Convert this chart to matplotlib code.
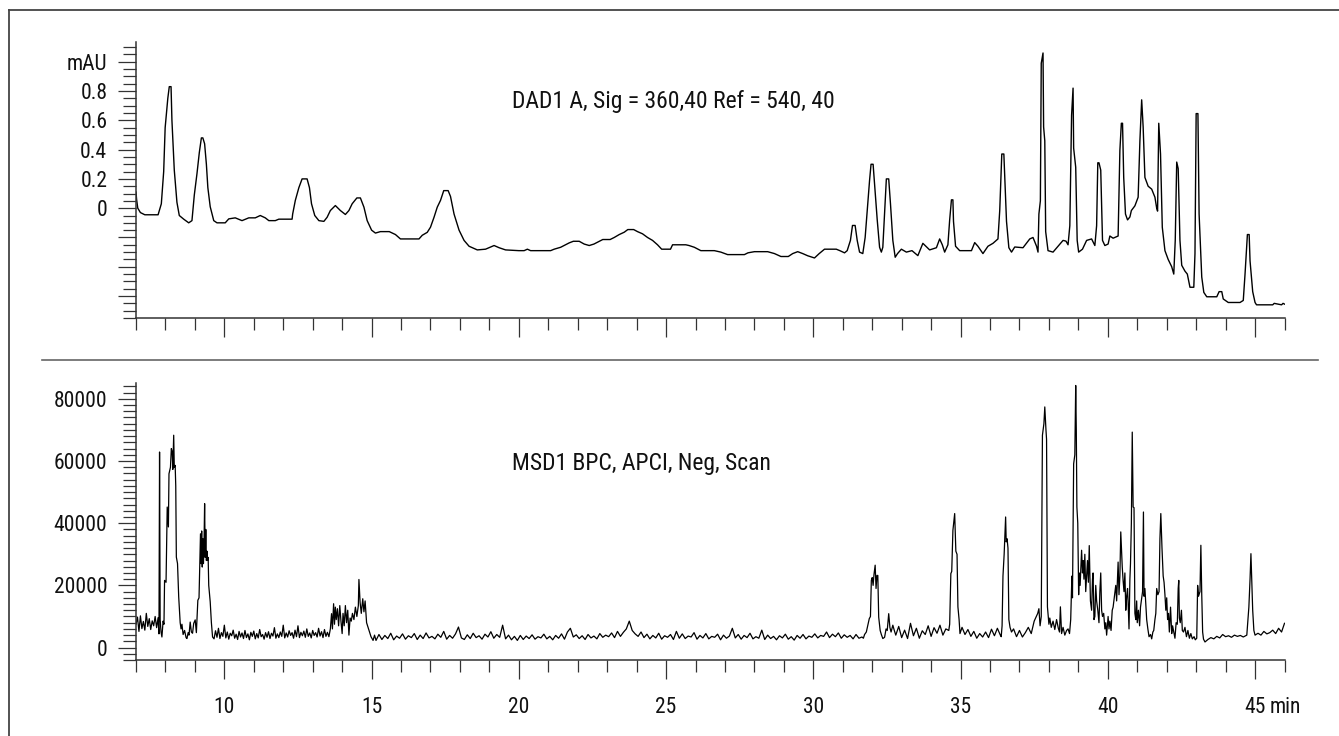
import numpy as np
import matplotlib
matplotlib.use("Agg")
import matplotlib.pyplot as plt
from matplotlib.ticker import MultipleLocator, FixedLocator, FixedFormatter
from matplotlib.lines import Line2D

plt.rcParams['font.family'] = ['Roboto Condensed', 'DejaVu Sans']

# ---------------- DAD1 A trace: (retention time [min], absorbance [mAU]) ----------------
dad_time = [
    7.00, 7.02, 7.06, 7.15, 7.30, 7.50, 7.75, 7.86, 7.94, 7.99, 8.08, 8.13, 8.19, 8.22, 8.30, 8.39,
    8.47, 8.62, 8.79, 8.90, 8.98, 9.07, 9.15, 9.22, 9.27, 9.33, 9.39, 9.44, 9.52, 9.64, 9.75, 10.03,
    10.15, 10.37, 10.60, 10.83, 11.05, 11.22, 11.39, 11.51, 11.73, 11.85, 12.30, 12.32, 12.41, 12.53,
    12.64, 12.81, 12.89, 12.96, 13.07, 13.21, 13.38, 13.49, 13.60, 13.77, 13.94, 14.11, 14.23, 14.34,
    14.50, 14.62, 14.74, 14.85, 15.00, 15.13, 15.30, 15.60, 15.81, 15.98, 16.61, 16.72, 16.89, 17.00,
    17.12, 17.23, 17.34, 17.45, 17.60, 17.68, 17.80, 17.97, 18.14, 18.31, 18.59, 18.87, 19.16, 19.33,
    19.55, 20.00, 20.18, 20.29, 20.40, 21.08, 21.20, 21.42, 21.71, 21.85, 22.05, 22.22, 22.39, 22.55,
    22.73, 22.85, 23.10, 23.24, 23.41, 23.58, 23.70, 23.90, 24.03, 24.20, 24.37, 24.54, 24.71, 24.85,
    25.15, 25.22, 25.67, 25.78, 25.96, 26.18, 26.64, 26.86, 27.09, 27.66, 27.78, 28.00, 28.45, 28.68,
    28.90, 29.15, 29.30, 29.47, 29.64, 29.81, 30.04, 30.20, 30.38, 30.78, 30.90, 31.06, 31.15, 31.26,
    31.33, 31.42, 31.49, 31.57, 31.68, 31.76, 31.83, 31.91, 31.96, 32.03, 32.08, 32.17, 32.25, 32.31,
    32.36, 32.42, 32.48, 32.56, 32.62, 32.70, 32.78, 32.86, 32.99, 33.16, 33.35, 33.55, 33.72, 33.95,
    34.18, 34.29, 34.38, 34.46, 34.57, 34.63, 34.69, 34.74, 34.76, 34.83, 34.97, 35.37, 35.48, 35.59,
    35.76, 35.93, 36.10, 36.27, 36.33, 36.40, 36.47, 36.50, 36.56, 36.64, 36.73, 36.84, 37.12, 37.35,
    37.46, 37.58, 37.63, 37.66, 37.71, 37.74, 37.80, 37.82, 37.86, 37.89, 37.97, 38.14, 38.31, 38.48,
    38.58, 38.65, 38.71, 38.77, 38.82, 38.84, 38.91, 38.96, 39.01, 39.14, 39.28, 39.45, 39.56, 39.62,
    39.66, 39.70, 39.76, 39.82, 39.90, 40.01, 40.07, 40.18, 40.35, 40.41, 40.46, 40.50, 40.54, 40.60,
    40.67, 40.75, 40.80, 40.92, 41.03, 41.09, 41.15, 41.20, 41.26, 41.37, 41.49, 41.60, 41.66, 41.69,
    41.73, 41.79, 41.85, 41.94, 42.05, 42.17, 42.24, 42.29, 42.34, 42.39, 42.45, 42.51, 42.62, 42.70,
    42.79, 42.92, 42.96, 43.00, 43.06, 43.10, 43.19, 43.26, 43.36, 43.70, 43.78, 43.87, 43.92, 44.09,
    44.49, 44.60, 44.66, 44.74, 44.80, 44.83, 44.92, 45.00, 45.05, 45.60, 45.65, 45.90, 45.95, 46.00,
]
dad_mau = [
    0.11, 0.06, 0.00, -0.03, -0.045, -0.045, -0.045, 0.03, 0.25, 0.55, 0.75, 0.83, 0.83, 0.60, 0.26, 0.04,
    -0.05, -0.075, -0.10, -0.085, 0.09, 0.235, 0.38, 0.48, 0.48, 0.44, 0.30, 0.14, 0.01, -0.085, -0.10, -0.10,
    -0.073, -0.066, -0.085, -0.066, -0.066, -0.05, -0.066, -0.085, -0.085, -0.075, -0.075, -0.04, 0.053, 0.14,
    0.20, 0.20, 0.14, 0.03, -0.05, -0.085, -0.09, -0.062, -0.016, 0.018, -0.016, -0.043, -0.016, 0.03,
    0.07, 0.07, 0.007, -0.085, -0.15, -0.17, -0.16, -0.16, -0.18, -0.21, -0.21, -0.185, -0.165, -0.13,
    -0.062, 0.007, 0.053, 0.12, 0.12, 0.08, -0.04, -0.15, -0.22, -0.26, -0.285, -0.28, -0.255, -0.27,
    -0.285, -0.29, -0.29, -0.28, -0.29, -0.29, -0.28, -0.267, -0.237, -0.226, -0.226, -0.245, -0.255, -0.245,
    -0.226, -0.214, -0.214, -0.20, -0.18, -0.164, -0.146, -0.146, -0.16, -0.175, -0.20, -0.22, -0.25, -0.28,
    -0.28, -0.25, -0.25, -0.255, -0.267, -0.29, -0.29, -0.30, -0.317, -0.317, -0.305, -0.297, -0.297, -0.31,
    -0.33, -0.33, -0.31, -0.297, -0.31, -0.325, -0.34, -0.31, -0.28, -0.28, -0.29, -0.305, -0.29, -0.22,
    -0.118, -0.118, -0.22, -0.30, -0.31, -0.20, -0.016, 0.19, 0.30, 0.30, 0.167, -0.08, -0.267, -0.30,
    -0.267, -0.04, 0.20, 0.20, 0.03, -0.22, -0.335, -0.31, -0.28, -0.30, -0.29, -0.324, -0.24, -0.285,
    -0.27, -0.21, -0.25, -0.30, -0.25, -0.08, 0.057, 0.057, -0.09, -0.26, -0.29, -0.29, -0.235, -0.26,
    -0.31, -0.26, -0.24, -0.21, -0.016, 0.37, 0.37, 0.21, -0.09, -0.27, -0.30, -0.265, -0.27, -0.21,
    -0.20, -0.26, -0.30, -0.04, 0.05, 0.99, 1.06, 0.555, 0.46, -0.16, -0.29, -0.30, -0.26, -0.22,
    -0.225, -0.25, -0.12, 0.635, 0.82, 0.41, 0.28, -0.22, -0.30, -0.28, -0.22, -0.21, -0.255, -0.12,
    0.31, 0.31, 0.26, -0.22, -0.255, -0.245, -0.19, -0.205, -0.19, 0.395, 0.58, 0.58, 0.21, -0.04,
    -0.08, -0.06, -0.016, 0.016, 0.075, 0.46, 0.74, 0.555, 0.21, 0.15, 0.13, 0.075, 0.00, -0.02,
    0.58, 0.37, -0.13, -0.29, -0.35, -0.40, -0.45, -0.22, 0.315, 0.27, -0.22, -0.39, -0.43, -0.45,
    -0.54, -0.54, -0.31, 0.646, 0.646, -0.04, -0.47, -0.575, -0.605, -0.605, -0.57, -0.57, -0.62, -0.644,
    -0.644, -0.63, -0.45, -0.18, -0.18, -0.36, -0.57, -0.644, -0.66, -0.66, -0.65, -0.66, -0.65, -0.655,
]

# ---------------- MSD1 BPC trace (counts) ----------------
# Stretches of baseline recorded on a regular scan grid: (first scan time, scan interval, counts)
msd_base_early = (7.00, 0.05, [7500, 9800, 5200, 10200, 6100, 8400, 5600, 11000,
                               6800, 9300, 5800, 8600, 7000, 10000, 6400, 9600])
msd_base_a = (9.65, 0.05, [
    2800, 5400, 3300, 6200, 2900, 4800, 3600, 7200, 3100, 5000,
    2700, 4600, 3800, 5600, 3000, 4300, 2600, 5200, 3400, 4700,
    2900, 5500, 3200, 4400, 2500, 4900, 3600, 5300, 2800, 4500,
    3100, 5800, 3500, 4200, 2700, 4800, 3300, 5100, 2900, 4600,
    3700, 6400, 3000, 4400, 3200, 5000, 3600, 7200, 3100, 4700,
    3400, 5400, 3900, 4800, 3000, 5600, 3500, 7000, 3200, 4900,
    3800, 5300, 3300, 6000, 3600, 4700, 3100, 5500, 3900, 4800,
    3400, 6200, 3700, 5100, 3200, 5800, 3600, 4900])
msd_base_b = (15.15, 0.10, [
    2300, 4200, 2600, 3900, 2900, 4600, 2500, 3700, 3000, 4400,
    2700, 3800, 3200, 4500, 2600, 4000, 2900, 4700, 3100, 3600,
    2800, 4300, 3300, 5200, 2700, 3900, 3000, 4400, 6600, 3100,
    2600, 4100, 2900, 4600, 3200, 3800, 2700, 4300, 3400, 5100,
    3000, 4200, 3300, 7200, 2800, 4000, 2500, 3600, 2300, 3900,
    2600, 3700, 2900, 4100, 2700, 3500, 3100, 4300, 2800, 3600,
    2500, 3900, 3000, 4400, 2700, 5000, 6200, 3400, 4100, 2900,
    3800, 2600, 4200, 3100, 3700, 2800, 4500, 3300, 4000, 3500,
    4700, 3200, 5200, 3600, 4900, 6000, 8500, 5500, 4400, 3600,
    5000, 3200, 4300, 2800, 3900, 3100, 4600, 2700, 3800, 3300,
    4200, 2600, 5200, 3000, 4400, 2900, 3700, 3400, 4800, 2700,
    3900, 3100, 4500, 2800, 3600, 3300, 4300, 2500, 4000, 3000,
    3700, 6200, 3100, 4200, 2700, 3900, 3200, 4600, 2800, 3500,
    3000, 5600, 2600, 4000, 2900, 3600, 2500, 3800, 3100, 4300,
    2700, 3500, 2400, 3900, 3000, 4200, 2800, 3700, 3300, 4400,
    3100, 3900, 3600, 5000, 3200, 4300, 3500, 4700, 3000, 4100,
    3300, 3900, 2800, 4200, 3000, 3400])
msd_base_c = (32.80, 0.10, [4000, 6800, 3200, 5600, 2900, 7800, 3800, 6200, 3000, 5400,
                            4200, 7000, 3600, 6400, 4600, 7200, 4000, 6000])
msd_base_d = (35.05, 0.10, [6500, 4200, 5800, 3600, 5200, 3000, 4500, 3400, 5000, 3200,
                            5900, 3800, 6200, 4000])
msd_base_e = (36.80, 0.10, [6000, 3500, 5500, 3400, 4800, 6500, 4500, 8500])
msd_base_f = (43.30, 0.10, [1800, 2600, 3200, 2800, 3600, 3100, 4200, 3500, 3800, 3300,
                            4000, 3600, 3900, 3400])
msd_base_g = (45.10, 0.10, [4600, 4000, 5200, 4400, 4800, 5600, 4500, 6200, 5000, 7800])

# Eluting peaks: (retention time [min], counts)
msd_peaks_8 = [
    (7.78, 4400), (7.80, 62900), (7.82, 9000), (7.85, 5000), (7.88, 3400), (7.92, 8500), (7.95, 7500),
    (7.97, 21600), (8.02, 21000), (8.06, 45200), (8.10, 38800), (8.12, 55900), (8.17, 58000),
    (8.20, 64000), (8.23, 63000), (8.25, 57300), (8.28, 68300), (8.30, 58000), (8.33, 58600),
    (8.35, 52000), (8.37, 29100), (8.41, 27000), (8.45, 16300), (8.50, 8000), (8.53, 6000),
    (8.56, 7500), (8.60, 4200), (8.65, 5500), (8.70, 3200), (8.73, 2900), (8.77, 4800), (8.80, 4000),
    (8.84, 8200), (8.88, 5000), (8.92, 4600), (8.96, 7800), (9.01, 8900), (9.05, 4800), (9.10, 15200),
    (9.14, 16000), (9.19, 36600), (9.21, 27000), (9.23, 37500), (9.25, 25900), (9.27, 35000),
    (9.29, 27000), (9.31, 33400), (9.33, 46300), (9.35, 29000), (9.37, 38000), (9.39, 28000),
    (9.41, 31000), (9.43, 28100), (9.45, 29000), (9.47, 20000), (9.52, 14700), (9.56, 8000),
    (9.60, 3400),
]
msd_peaks_14 = [
    (13.55, 3500), (13.60, 6000), (13.64, 10900), (13.67, 6000), (13.71, 14100), (13.74, 7500),
    (13.77, 13000), (13.80, 9000), (13.84, 12500), (13.88, 7000), (13.92, 13500), (13.96, 8500),
    (14.00, 4500), (14.03, 11000), (14.07, 7000), (14.11, 13500), (14.15, 8000), (14.19, 12000),
    (14.23, 4000), (14.27, 9500), (14.31, 8500), (14.35, 11000), (14.40, 9000), (14.45, 13000),
    (14.50, 10000), (14.55, 13500), (14.57, 21900), (14.61, 14500), (14.65, 11000), (14.70, 15700),
    (14.74, 11500), (14.78, 15000), (14.83, 8000), (14.88, 6500), (14.93, 5000), (14.98, 3500),
    (15.05, 2300), (15.10, 4000),
]
msd_peaks_32 = [
    (31.70, 3000), (31.74, 4200), (31.80, 5000), (31.85, 7200), (31.90, 9300), (31.94, 10000),
    (31.97, 21600), (32.00, 22500), (32.03, 20000), (32.06, 23500), (32.10, 26500), (32.13, 19000),
    (32.16, 23200), (32.19, 23200), (32.22, 9800), (32.27, 5500), (32.31, 4200), (32.36, 2900),
    (32.42, 3300), (32.47, 6000), (32.51, 5500), (32.56, 10900), (32.60, 6500), (32.64, 5000),
    (32.70, 7200), (32.75, 5500),
]
msd_peaks_35 = [
    (34.60, 5500), (34.63, 7500), (34.67, 23800), (34.70, 24500), (34.74, 37700), (34.80, 43100),
    (34.84, 31000), (34.88, 30000), (34.91, 13100), (34.95, 9000), (34.98, 4500),
    (36.38, 3500), (36.41, 7000), (36.44, 23000), (36.48, 30000), (36.53, 42000), (36.55, 34000),
    (36.58, 35000), (36.61, 32000), (36.64, 9000), (36.68, 6500), (36.73, 5000),
]
msd_peaks_38 = [
    (37.62, 11000), (37.66, 12500), (37.70, 7000), (37.74, 10000), (37.78, 68300), (37.83, 72000),
    (37.86, 77400), (37.90, 70000), (37.92, 67000), (37.95, 13100), (38.00, 7500), (38.03, 9500),
    (38.08, 6500), (38.14, 8500), (38.20, 5800), (38.26, 9000), (38.32, 6200), (38.36, 5000),
    (38.39, 13100), (38.43, 4500), (38.48, 6500), (38.54, 4000), (38.60, 5500), (38.65, 6000),
    (38.70, 4500), (38.74, 9000), (38.78, 23000), (38.80, 16000), (38.84, 59100), (38.88, 62000),
    (38.91, 84300), (38.93, 70000), (38.95, 45200), (38.98, 40000), (39.01, 17000), (39.03, 24000),
    (39.06, 20000), (39.11, 31300), (39.14, 24000), (39.16, 28000), (39.19, 22000), (39.22, 30000),
    (39.25, 18000), (39.28, 23000), (39.31, 28000), (39.34, 21000), (39.37, 32800), (39.41, 15000),
    (39.45, 12000), (39.48, 22000), (39.50, 24000), (39.53, 9000), (39.56, 10000), (39.59, 20000),
    (39.62, 15000), (39.66, 12000), (39.70, 8000), (39.73, 18000), (39.76, 24000), (39.79, 12000),
    (39.82, 10000), (39.86, 11000), (39.90, 6000), (39.93, 8000), (39.96, 4000), (40.01, 10000),
    (40.04, 6000), (40.07, 8500), (40.11, 5500), (40.15, 12000), (40.18, 13000), (40.22, 16000),
    (40.27, 20000), (40.30, 15000), (40.35, 27500), (40.38, 17000), (40.41, 23000), (40.44, 37200),
    (40.47, 30000), (40.49, 26000), (40.52, 21500), (40.55, 18000), (40.58, 24000), (40.61, 12000),
    (40.64, 16500), (40.67, 19000), (40.69, 14500), (40.72, 6000), (40.75, 22000), (40.77, 27000),
    (40.80, 40000), (40.83, 69300), (40.86, 45200), (40.89, 45000), (40.92, 11000), (40.95, 9000),
    (40.98, 15000), (41.00, 8000), (41.04, 12000), (41.08, 7000), (41.11, 13000), (41.15, 16000),
    (41.18, 18000), (41.21, 43600), (41.23, 16500), (41.26, 19000), (41.29, 14000), (41.32, 9000),
    (41.36, 6000), (41.40, 3500), (41.45, 4200), (41.49, 2800), (41.53, 5000), (41.56, 5500),
    (41.60, 9000), (41.63, 11000), (41.66, 19000), (41.70, 17000), (41.74, 18000), (41.77, 35000),
    (41.80, 43100), (41.84, 32000), (41.88, 23000), (41.91, 21000), (41.94, 17000), (41.97, 12000),
    (42.00, 16000), (42.03, 9000), (42.06, 11000), (42.09, 5000), (42.13, 13000), (42.17, 4500),
    (42.20, 7000), (42.24, 5000), (42.28, 3000), (42.32, 8000), (42.36, 7500), (42.39, 19000),
    (42.41, 21600), (42.43, 9500), (42.46, 8000), (42.50, 12000), (42.53, 5500), (42.57, 5000),
    (42.62, 6500), (42.67, 3500), (42.72, 5500), (42.77, 3000), (42.82, 4500), (42.87, 2800),
    (42.93, 3500), (42.97, 2500), (43.02, 3000), (43.05, 20000), (43.08, 16500), (43.13, 18000),
    (43.16, 32900), (43.19, 17000), (43.22, 5000), (43.25, 2700),
]
msd_peaks_45 = [
    (44.72, 4000), (44.75, 8000), (44.79, 13000), (44.83, 22000), (44.86, 30200), (44.89, 21000),
    (44.92, 12000), (44.96, 5500), (45.00, 4000),
]

# x axis
x_min, x_max = 7, 46
x_major = [10, 15, 20, 25, 30, 35, 40, 45]
x_labels = ['10', '15', '20', '25', '30', '35', '40', '45']

# DAD y axis
dad_ylim = (-0.75, 1.135)
dad_yticks = [-0.6, -0.4, -0.2, 0.0, 0.2, 0.4, 0.6, 0.8, 1.0]
dad_ylabels = ['', '', '', '0', '0.2', '0.4', '0.6', '0.8', 'mAU']

# MSD y axis
msd_ylim = (-4000, 85000)
msd_yticks = [0, 20000, 40000, 60000, 80000]
msd_ylabels = ['0', '20000', '40000', '60000', '80000']


def assemble_msd():
    pts = []
    for t0, dt, vals in (msd_base_early, msd_base_a, msd_base_b, msd_base_c,
                         msd_base_d, msd_base_e, msd_base_f, msd_base_g):
        for i, v in enumerate(vals):
            pts.append((t0 + dt * i, v))
    for group in (msd_peaks_8, msd_peaks_14, msd_peaks_32, msd_peaks_35,
                  msd_peaks_38, msd_peaks_45):
        pts.extend(group)
    pts.sort(key=lambda p: p[0])
    return [p[0] for p in pts], [p[1] for p in pts]


W, H = 1339, 736
fig = plt.figure(figsize=(W / 100, H / 100), dpi=100)

ax_l = 136 / W
ax_w = (1284.5 - 136) / W
ax1 = fig.add_axes([ax_l, 1 - 318 / H, ax_w, (318 - 42) / H])
ax2 = fig.add_axes([ax_l, 1 - 660 / H, ax_w, (660 - 383.3) / H])

axis_col = '#333333'
text_col = '#111111'
fs_tick = 15.5
fs_title = 17.0


def style_axes(ax):
    for s in ('top', 'right'):
        ax.spines[s].set_visible(False)
    for s in ('left', 'bottom'):
        ax.spines[s].set_color(axis_col)
        ax.spines[s].set_linewidth(1.1)
    ax.set_xlim(x_min, x_max)
    ax.xaxis.set_major_locator(FixedLocator(x_major))
    ax.xaxis.set_minor_locator(MultipleLocator(1))
    ax.tick_params(axis='x', which='major', direction='out', length=13.5, width=0.9,
                   color=axis_col, labelsize=fs_tick, pad=13, labelcolor=text_col)
    ax.tick_params(axis='x', which='minor', direction='out', length=8.6, width=0.9,
                   color=axis_col)
    ax.tick_params(axis='y', which='major', direction='out', length=12.7, width=0.9,
                   color=axis_col, labelsize=fs_tick, pad=8, labelcolor=text_col)
    ax.tick_params(axis='y', which='minor', direction='out', length=9.1, width=0.9,
                   color=axis_col)


# Top panel: DAD signal
style_axes(ax1)
ax1.plot(dad_time, dad_mau, color='black', lw=1.0)
ax1.set_ylim(*dad_ylim)
ax1.yaxis.set_major_locator(FixedLocator(dad_yticks))
ax1.yaxis.set_major_formatter(FixedFormatter(dad_ylabels))
ax1.yaxis.set_minor_locator(MultipleLocator(0.05))
ax1.tick_params(axis='x', labelbottom=False)
ax1.text(19.77, 0.683, 'DAD1 A, Sig = 360,40 Ref = 540, 40', fontsize=fs_title,
         ha='left', va='baseline', color=text_col)

# Bottom panel: MSD base peak chromatogram
style_axes(ax2)
msd_time, msd_counts = assemble_msd()
ax2.plot(msd_time, msd_counts, color='black', lw=0.9)
ax2.set_ylim(*msd_ylim)
ax2.yaxis.set_major_locator(FixedLocator(msd_yticks))
ax2.yaxis.set_major_formatter(FixedFormatter(msd_ylabels))
ax2.yaxis.set_minor_locator(MultipleLocator(2000))
ax2.xaxis.set_major_formatter(FixedFormatter(x_labels))
ax2.text(19.77, 57000, 'MSD1 BPC, APCI, Neg, Scan', fontsize=fs_title,
         ha='left', va='baseline', color=text_col)

# time unit written right after the last tick label, on the same line
fig.canvas.draw()
last_label = ax2.xaxis.get_major_ticks()[len(x_major) - 1].label1
ax2.annotate('min', xy=(1.0, 0.0), xycoords=last_label, xytext=(4, 0),
             textcoords='offset pixels', ha='left', va='bottom',
             fontsize=fs_tick, color=text_col, annotation_clip=False)

# Figure furniture: separator between the panels and the outer frame
fig.add_artist(Line2D([42 / W, 1318 / W], [1 - 360 / H, 1 - 360 / H],
                      color='#666666', lw=1.2))
fig.add_artist(Line2D([9 / W, 1.0], [1 - 10 / H, 1 - 10 / H], color='#444444', lw=1.3))
fig.add_artist(Line2D([9 / W, 9 / W], [0.0, 1 - 10 / H], color='#444444', lw=1.3))

fig.savefig('out.png', dpi=100, facecolor='white')
